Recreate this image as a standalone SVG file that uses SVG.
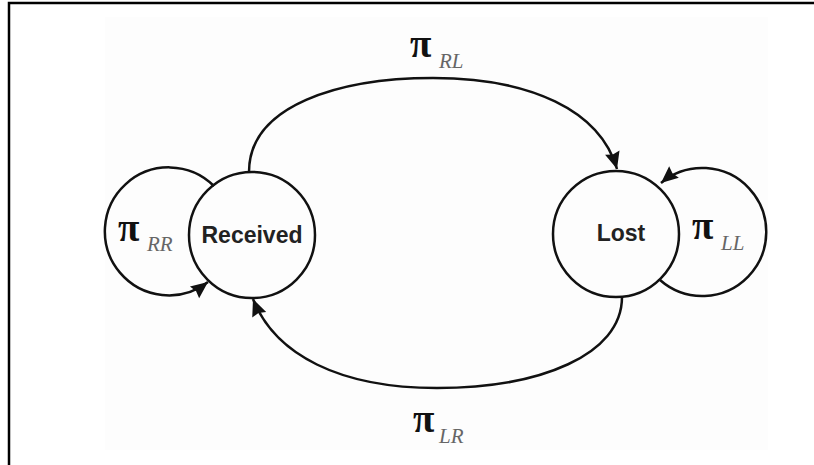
<svg xmlns="http://www.w3.org/2000/svg" width="814" height="465" viewBox="0 0 814 465">
<style>
.node{fill:none;stroke:#111;stroke-width:2.5}
.edge{fill:none;stroke:#111;stroke-width:2.5}
.name{font-family:"Liberation Sans",Arial,sans-serif;font-weight:bold;font-size:23px;fill:#222;text-anchor:middle}
.pi{font-family:"Liberation Serif","Times New Roman",serif;font-weight:bold;font-size:39px;fill:#111}
.sub{font-family:"Liberation Serif","Times New Roman",serif;font-style:italic;font-size:21px;fill:#666}
</style>
<defs>
<marker id="arr" markerUnits="userSpaceOnUse" markerWidth="20" markerHeight="18" refX="17" refY="7.5" orient="auto" overflow="visible">
<path d="M0,0 L17,7.5 L0,15 L2,7.5 Z" fill="#111"/>
</marker>
</defs>
<rect x="0" y="0" width="814" height="465" fill="#fff"/>
<rect x="105" y="17" width="663" height="433" fill="#fdfdfd"/>
<path d="M9,465 L9,3 L814,3" fill="none" stroke="#000" stroke-width="2.5"/>
<g id="received">
<circle class="node" cx="252" cy="235" r="63"/>
<text class="name" x="252" y="243">Received</text>
</g>
<g id="lost">
<circle class="node" cx="616" cy="234" r="63"/>
<text class="name" x="621" y="241">Lost</text>
</g>
<g id="connectors">
<path class="edge" d="M214,186 A64 64 0 1 0 208,282" marker-end="url(#arr)"/>
<path class="edge" d="M660,280 A64 64 0 1 0 661,183" marker-end="url(#arr)"/>
<path class="edge" d="M249,172 C249,105 340,78 433,78 C530,78 600,110 617,169" marker-end="url(#arr)"/>
<path class="edge" d="M622,297 C622,355 540,388 437,388 C340,388 275,355 253,299" marker-end="url(#arr)"/>
</g>
<g id="labels">
<text><tspan class="pi" x="410" y="57">π</tspan><tspan class="sub" x="439" y="68">RL</tspan></text>
<text><tspan class="pi" x="118" y="241">π</tspan><tspan class="sub" x="147" y="251">RR</tspan></text>
<text><tspan class="pi" x="692" y="239">π</tspan><tspan class="sub" x="721" y="250">LL</tspan></text>
<text><tspan class="pi" x="413" y="432">π</tspan><tspan class="sub" x="439" y="443">LR</tspan></text>
</g>
</svg>
